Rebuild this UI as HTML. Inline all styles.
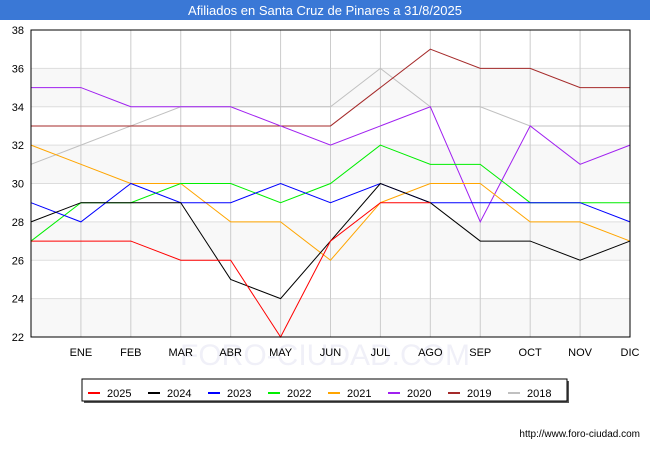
<!DOCTYPE html>
<html><head><meta charset="utf-8"><style>
body{margin:0;background:#fff;font-family:"Liberation Sans",sans-serif}
svg text{font-family:"Liberation Sans",sans-serif}
</style></head><body>
<svg width="650" height="450" id="chart">
<rect x="0" y="0" width="650" height="20" fill="#3a78d6"/>
<text x="325" y="15" text-anchor="middle" font-size="13" fill="#fff">Afiliados en Santa Cruz de Pinares a 31/8/2025</text>
<g id="grid"></g>
<text x="325" y="365" text-anchor="middle" font-size="30" fill="#f0f0f8">FORO-CIUDAD.COM</text>
<g id="lines"></g>
<rect x="31" y="30" width="599" height="307" fill="none" stroke="#000" stroke-width="1"/>
<g id="axes"></g>
<g id="legend"></g>
<text x="640" y="437" text-anchor="end" font-size="10" fill="#000">http://www.foro-ciudad.com</text>
</svg>
<script>
const months=["","ENE","FEB","MAR","ABR","MAY","JUN","JUL","AGO","SEP","OCT","NOV","DIC"];
const yTicks=[22,24,26,28,30,32,34,36,38];
const seriesNames=["2025","2024","2023","2022","2021","2020","2019","2018"];
const colors=["#ff0000","#000000","#0000ff","#00ee00","#ffa500","#a020f0","#a52a2a","#c0c0c0"];
const s2025=[27,27,27,26,26,22,27,29,29];
const s2024=[28,29,29,29,25,24,27,30,29,27,27,26,27];
const s2023=[29,28,30,29,29,30,29,30,29,29,29,29,28];
const s2022=[27,29,29,30,30,29,30,32,31,31,29,29,29];
const s2021=[32,31,30,30,28,28,26,29,30,30,28,28,27];
const s2020=[35,35,34,34,34,33,32,33,34,28,33,31,32];
const s2019=[33,33,33,33,33,33,33,35,37,36,36,35,35];
const s2018=[31,32,33,34,34,34,34,36,34,34,33,33,33];
const allSeries=[s2025,s2024,s2023,s2022,s2021,s2020,s2019,s2018];
const NS="http://www.w3.org/2000/svg";
const x=i=>31+i*(599/12);
const y=v=>337-(v-22)*(307/16);
function mk(t,a,p){const e=document.createElementNS(NS,t);for(const k in a)e.setAttribute(k,a[k]);p.appendChild(e);return e;}
const grid=document.getElementById('grid'),axes=document.getElementById('axes'),lines=document.getElementById('lines'),leg=document.getElementById('legend');
for(let k=0;k<yTicks.length-1;k+=2){const r=mk('rect',{x:31,y:y(yTicks[k+1]),width:599,height:y(yTicks[k])-y(yTicks[k+1]),fill:'#f8f8f8'},grid);

}
yTicks.forEach(v=>{const l=mk('line',{x1:31,x2:630,y1:y(v),y2:y(v),stroke:'#dddddd'},grid);


const t=mk('text',{x:24,y:y(v)+4,'text-anchor':'end','font-size':11},axes);t.textContent=v;

});
months.forEach((m,i)=>{const l=mk('line',{x1:x(i),x2:x(i),y1:30,y2:337,stroke:'#cccccc'},grid);


if(m){const t=mk('text',{x:x(i),y:356,'text-anchor':'middle','font-size':11},axes);t.textContent=m;

}});
for(let s=allSeries.length-1;s>=0;s--){const d=allSeries[s];
const p=mk('polyline',{points:d.map((v,i)=>x(i)+','+y(v)).join(' '),fill:'none',stroke:colors[s],'stroke-width':1},lines);

}
const sh=mk('rect',{x:84,y:381,width:485,height:22,fill:'#555'},leg);


const box=mk('rect',{x:82,y:379,width:485,height:22,fill:'#fff',stroke:'#000'},leg);


seriesNames.forEach((n,i)=>{const lx=88+i*60;
const g=mk('g',{},leg);


mk('line',{x1:lx,x2:lx+12,y1:393,y2:393,stroke:colors[i],'stroke-width':2},g);
const t=mk('text',{x:lx+19,y:397,'font-size':11},g);t.textContent=n;});
</script>
</body></html>
